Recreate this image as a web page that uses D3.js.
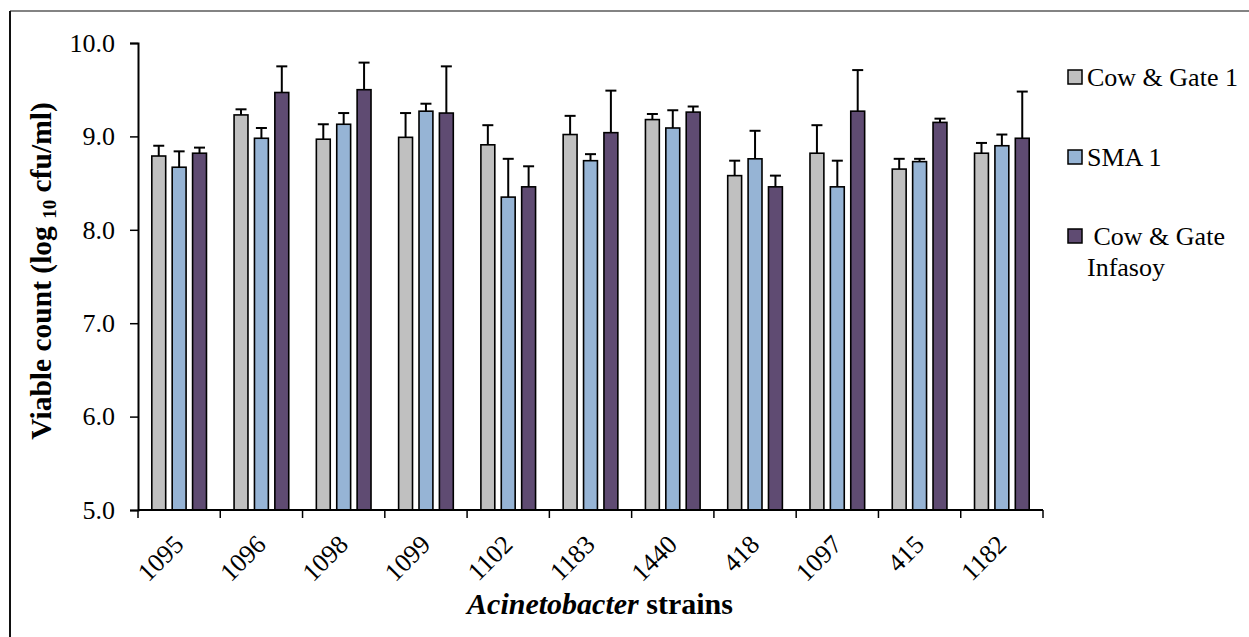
<!DOCTYPE html>
<html>
<head>
<meta charset="utf-8">
<script src="https://cdn.jsdelivr.net/npm/d3@7"></script>
<style>
  html, body { margin: 0; padding: 0; background: #fff; }
  svg { display: block; }
  text { font-family: "Liberation Serif", "Times New Roman", serif; fill: #000; }
</style>
</head>
<body>
<svg id="chart" width="1249" height="637"></svg>
<script>
// Strains on the x axis
const strains = ["1095", "1096", "1098", "1099", "1102", "1183", "1440", "418", "1097", "415", "1182"];

// Infant formula series
const seriesNames = ["Cow & Gate 1", "SMA 1", "Cow & Gate Infasoy"];
const seriesColors = ["#C0C0C0", "#96B4D5", "#5F4B72"];

// Mean viable counts (log10 cfu/ml) per strain
const cowGate1 = [8.79, 9.23, 8.97, 8.99, 8.91, 9.02, 9.18, 8.58, 8.82, 8.65, 8.82];
const sma1     = [8.67, 8.98, 9.13, 9.27, 8.35, 8.74, 9.09, 8.76, 8.46, 8.73, 8.90];
const infasoy  = [8.82, 9.47, 9.50, 9.25, 8.46, 9.04, 9.26, 8.46, 9.27, 9.15, 8.98];

// Standard deviations (upper error bars)
const cowGate1Err = [0.11, 0.06, 0.16, 0.26, 0.21, 0.20, 0.06, 0.16, 0.30, 0.11, 0.11];
const sma1Err     = [0.17, 0.11, 0.12, 0.08, 0.41, 0.07, 0.19, 0.30, 0.28, 0.03, 0.12];
const infasoyErr  = [0.06, 0.28, 0.29, 0.50, 0.22, 0.45, 0.06, 0.12, 0.44, 0.04, 0.50];

const yTicks = [5, 6, 7, 8, 9, 10];

const seriesValues = [cowGate1, sma1, infasoy];
const seriesErrors = [cowGate1Err, sma1Err, infasoyErr];

const svg = d3.select("#chart");

// Outer frame (only top and left edges fall inside the canvas)
svg.append("line").attr("x1", 10).attr("x2", 1249).attr("y1", 11).attr("y2", 11)
  .attr("stroke", "#5a5a5a").attr("stroke-width", 1.5);
svg.append("line").attr("x1", 10).attr("x2", 10).attr("y1", 11).attr("y2", 637)
  .attr("stroke", "#111").attr("stroke-width", 2);

const plot = { left: 138, right: 1043, top: 43, bottom: 510 };

const x = d3.scaleBand().domain(strains).range([plot.left, plot.right]).padding(0);
const x1 = d3.scaleBand().domain(d3.range(3))
  .range([13, x.bandwidth() - 13]).paddingInner(0.24).paddingOuter(0);
const y = d3.scaleLinear().domain([5, 10]).range([plot.bottom, plot.top]);

// Bars
const rows = [];
strains.forEach((s, i) => {
  seriesValues.forEach((vals, k) => {
    rows.push({ strain: s, k, v: vals[i], e: seriesErrors[k][i] });
  });
});

const sw = 1.6;
const g = svg.append("g");

// Error bars drawn first so the bar outline sits over the stem base
const err = g.append("g");
rows.forEach(d => {
  const cx = x(d.strain) + x1(d.k) + x1.bandwidth() / 2;
  err.append("line").attr("x1", cx).attr("x2", cx)
    .attr("y1", y(d.v)).attr("y2", y(d.v + d.e))
    .attr("stroke", "#000").attr("stroke-width", 2);
  err.append("line").attr("x1", cx - 5.5).attr("x2", cx + 5.5)
    .attr("y1", y(d.v + d.e)).attr("y2", y(d.v + d.e))
    .attr("stroke", "#000").attr("stroke-width", 2);
});

g.selectAll("rect.bar").data(rows).join("rect")
  .attr("class", "bar")
  .attr("x", d => x(d.strain) + x1(d.k) + sw / 2)
  .attr("width", x1.bandwidth() - sw)
  .attr("y", d => y(d.v))
  .attr("height", d => y(5) - y(d.v))
  .attr("fill", d => seriesColors[d.k])
  .attr("stroke", "#000")
  .attr("stroke-width", sw);

// Y axis
const yAxis = svg.append("g").attr("transform", `translate(${plot.left},0)`)
  .call(d3.axisLeft(y).tickValues(yTicks).tickFormat(d3.format(".1f")).tickSizeOuter(0).tickSize(8).tickPadding(15));
yAxis.select(".domain").attr("stroke", "#000").attr("stroke-width", 2);
yAxis.selectAll(".tick line").attr("stroke", "#000").attr("stroke-width", 1.5);
yAxis.selectAll(".tick text").attr("font-size", 26)
  .attr("font-family", "Liberation Serif, serif").attr("fill", "#000");

// X axis with ticks at category boundaries
const xAxisG = svg.append("g").attr("transform", `translate(0,${plot.bottom})`);
xAxisG.append("line").attr("x1", plot.left).attr("x2", plot.right)
  .attr("stroke", "#000").attr("stroke-width", 2);
const boundaries = strains.map(s => x(s)).concat([plot.right]);
xAxisG.selectAll("line.tk").data(boundaries).join("line")
  .attr("class", "tk")
  .attr("x1", d => d).attr("x2", d => d).attr("y1", 0).attr("y2", 8)
  .attr("stroke", "#000").attr("stroke-width", 1.5);

xAxisG.selectAll("text.lbl").data(strains).join("text")
  .attr("class", "lbl")
  .attr("transform", d => `translate(${x(d) + x.bandwidth() / 2 + 6},${36}) rotate(-45)`)
  .attr("text-anchor", "end")
  .attr("font-size", 26)
  .text(d => d);

// Y axis title
const yTitle = svg.append("text")
  .attr("transform", `translate(51,${271}) rotate(-90)`)
  .attr("text-anchor", "middle")
  .attr("font-size", 29.5)
  .attr("font-weight", "bold");
yTitle.append("tspan").text("Viable count (log ");
yTitle.append("tspan").attr("font-size", 19).attr("dy", 5).text("10");
yTitle.append("tspan").attr("dy", -5).text(" cfu/ml)");

// X axis title
const xTitle = svg.append("text")
  .attr("x", 600).attr("y", 614)
  .attr("text-anchor", "middle")
  .attr("font-size", 30)
  .attr("font-weight", "bold");
xTitle.append("tspan").attr("font-style", "italic").text("Acinetobacter");
xTitle.append("tspan").text(" strains");

// Legend
const legendRows = [
  { name: ["Cow & Gate 1"], cy: 77, tx: 1087 },
  { name: ["SMA 1"], cy: 157, tx: 1087 },
  { name: [" Cow & Gate", "Infasoy"], cy: 236, tx: 1087 }
];
const legend = svg.append("g");
legendRows.forEach((r, k) => {
  legend.append("rect")
    .attr("x", 1068).attr("y", r.cy - 7).attr("width", 14).attr("height", 14)
    .attr("fill", seriesColors[k]).attr("stroke", "#000").attr("stroke-width", 1.5);
  const t = legend.append("text").attr("x", r.tx).attr("y", r.cy + 9)
    .attr("font-size", 26).attr("xml:space", "preserve").style("white-space", "pre");
  r.name.forEach((line, j) => {
    t.append("tspan").attr("x", r.tx).attr("dy", j === 0 ? 0 : 31).text(line);
  });
});
</script>
</body>
</html>
